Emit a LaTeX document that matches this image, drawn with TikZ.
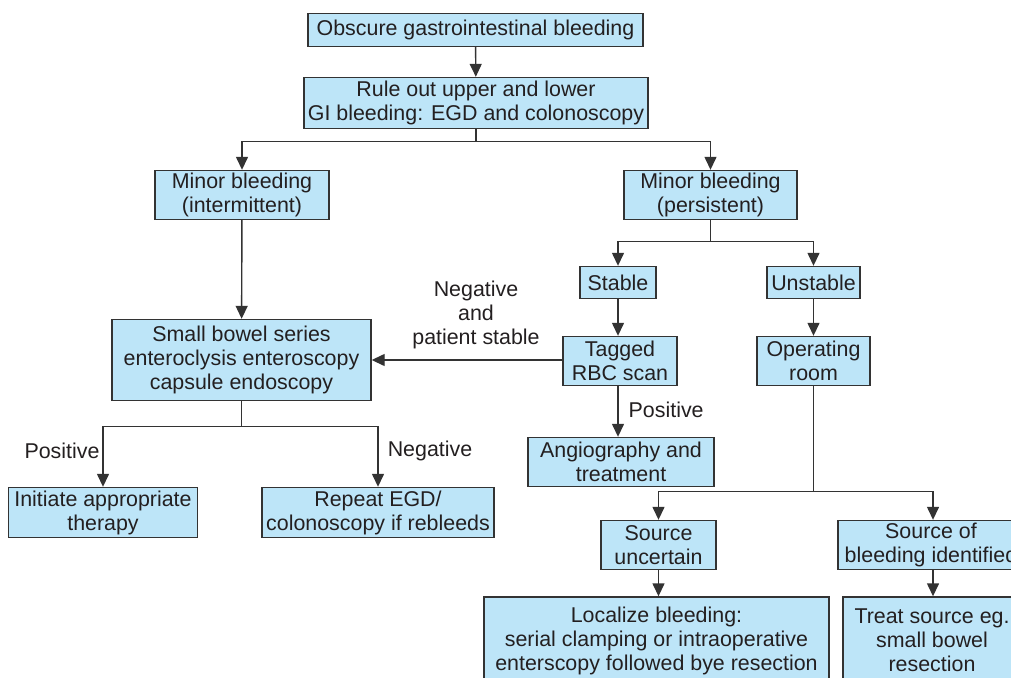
\documentclass[tikz,border=0pt]{standalone}
\usepackage{fontspec}
\setmainfont{Liberation Sans}
\usetikzlibrary{arrows.meta}
\definecolor{boxblue}{HTML}{BDE5F8}
\definecolor{boxedge}{HTML}{333333}
\definecolor{inkgray}{HTML}{231F20}

\begin{document}
\begin{tikzpicture}[x=1pt,y=-1pt,->,>={Triangle[length=13pt,width=12pt]},line width=1.4pt,draw=boxedge,
  font=\fontsize{21.4}{24}\selectfont,text=inkgray,
  box/.style={draw=boxedge,fill=boxblue,line width=1.4pt,align=center,inner sep=0pt,minimum height=49pt},
  tag/.style={align=center,inner sep=0pt}]

  \useasboundingbox (0,0) rectangle (1011,677);
  \clip (0,0) rectangle (1011,677);

  \node[box, minimum width=335pt, minimum height=33pt] (obscure) at (475.5,30) {Obscure gastrointestinal bleeding};
  \node[box, minimum width=344pt, minimum height=51pt] (ruleout) at (476,103) {Rule out upper and lower\\GI bleeding: EGD and colonoscopy};
  \node[box, minimum width=174pt] (minorint) at (242,195) {Minor bleeding\\(intermittent)};
  \node[box, minimum width=173pt] (minorper) at (710.5,195) {Minor bleeding\\(persistent)};
  \node[box, minimum width=76pt, minimum height=32pt] (stable) at (618,282.5) {Stable};
  \node[box, minimum width=93pt, minimum height=32pt] (unstable) at (813.5,282.5) {Unstable};
  \node[box, minimum width=259pt, minimum height=81pt] (bowel) at (241.5,360) {Small bowel series\\enteroclysis enteroscopy\\capsule endoscopy};
  \node[box, minimum width=114pt] (tagged) at (620,361) {Tagged\\RBC scan};
  \node[box, minimum width=113pt] (oproom) at (813.5,361) {Operating\\room};
  \node[box, minimum width=186pt] (angio) at (621,462) {Angiography and\\treatment};
  \node[box, minimum width=189pt, minimum height=50pt] (initiate) at (103,512.5) {Initiate appropriate\\therapy};
  \node[box, minimum width=232pt, minimum height=50pt] (repeat) at (378,512.5) {Repeat EGD/\\colonoscopy if rebleeds};
  \node[box, minimum width=115pt] (uncertain) at (658.5,545) {Source\\uncertain};
  \node[box, minimum width=186pt] (identified) at (931,545) {Source of\\bleeding identified};
  \node[box, minimum width=345pt, minimum height=87pt] (localize) at (656.5,640.5) {Localize bleeding:\\serial clamping or intraoperative\\enterscopy followed bye resection};
  \node[box, minimum width=178pt, minimum height=87pt] (treat) at (932,640.5) {Treat source eg.\\small bowel\\resection};

  % branch labels
  \node[tag] (negstable) at (476,315) {Negative\\and\\patient stable};
  \node[tag, anchor=west] (angiopos) at (628,410) {Positive};
  \node[tag] (bowelpos) at (62,451) {Positive};
  \node[tag] (bowelneg) at (430,451) {Negative};

  \draw (obscure) -- (ruleout);
  \draw (ruleout.south) -- ++(0,12) -| (minorint.north);
  \draw (ruleout.south) -- ++(0,12) -| (minorper.north);
  \draw (minorint) -- (bowel);
  \draw (minorper.south) -- ++(0,21) -| (stable.north);
  \draw (minorper.south) -- ++(0,21) -| (unstable.north);
  \draw (stable.south) -- (stable.south |- tagged.north);
  \draw (unstable) -- (oproom);
  \draw (tagged.west |- bowel.east) -- (bowel.east);
  \draw (stable.south |- tagged.south) -- (stable.south |- angio.north);
  \draw (bowel.south) -- ++(0,25) -| (initiate.north);
  \draw (bowel.south) -- ++(0,25) -| (repeat.north);
  \draw (oproom.south) -- ++(0,105) -| (uncertain.north);
  \draw (oproom.south) -- ++(0,105) -| ([xshift=2pt]identified.north);
  \draw (uncertain.south) -- (uncertain.south |- localize.north);
  \draw ([xshift=2pt]identified.south) -- ([xshift=2pt]identified.south |- treat.north);
  % \draw (oproom) -- (identified);
\end{tikzpicture}
\end{document}
